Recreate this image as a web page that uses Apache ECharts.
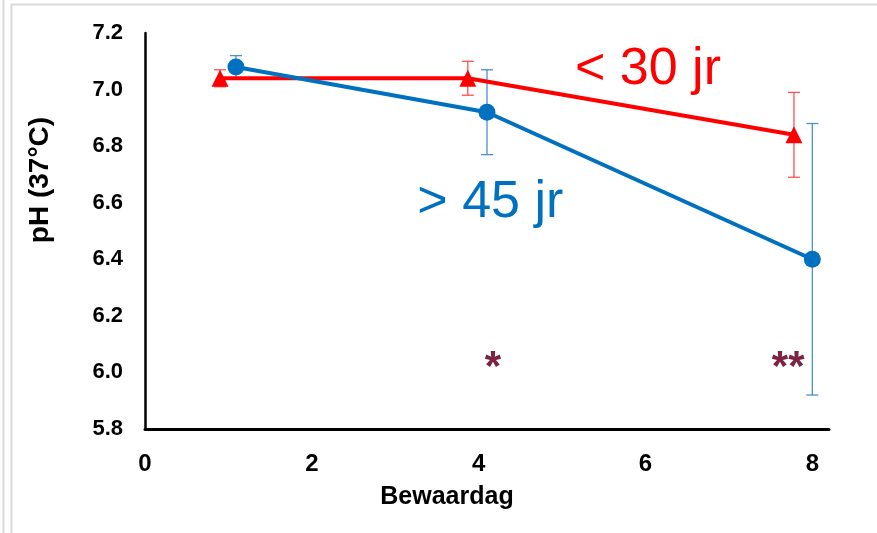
<!DOCTYPE html>
<html>
<head>
<meta charset="utf-8">
<script src="https://cdn.jsdelivr.net/npm/echarts@6/dist/echarts.min.js"></script>
<style>html,body{margin:0;padding:0;background:#fff;}#c{width:877px;height:533px;}</style>
</head>
<body>
<div id="c"></div>
<script>
// ---- data ----
const xTickLabels = [0, 2, 4, 6, 8];
const yTickLabels = [5.8, 6.0, 6.2, 6.4, 6.6, 6.8, 7.0, 7.2];
const youngName = '< 30 jr';
const youngX = [0.9, 3.87, 7.78];
const youngY = [7.04, 7.04, 6.84];
const youngErr = [0.03, 0.06, 0.15];
const oldName = '> 45 jr';
const oldX = [1.09, 4.1, 8.0];
const oldY = [7.08, 6.92, 6.40];
const oldErr = [0.04, 0.15, 0.48];
const starText = ['*', '**'];
const starX = [4.17, 7.71];
const starY = [6.05, 6.05];
const labelX = [6.03, 4.14];
const labelY = [7.07, 6.60];

const FONT = 'Liberation Sans, Arial, sans-serif';
const RED = '#ff0000', BLUE = '#0070c0';

function pts(xs, ys) { return xs.map((x, i) => [x, ys[i]]); }
function errData(xs, ys, es) { return xs.map((x, i) => [x, ys[i] - es[i], ys[i] + es[i]]); }

function errRender(color) {
  return function (params, api) {
    const x = api.value(0);
    const lo = api.coord([x, api.value(1)]);
    const hi = api.coord([x, api.value(2)]);
    const w = 6;
    const st = { stroke: color, lineWidth: 1.3 };
    return {
      type: 'group',
      children: [
        { type: 'line', shape: { x1: lo[0], y1: lo[1], x2: hi[0], y2: hi[1] }, style: st },
        { type: 'line', shape: { x1: lo[0] - w, y1: lo[1], x2: lo[0] + w, y2: lo[1] }, style: st },
        { type: 'line', shape: { x1: hi[0] - w, y1: hi[1], x2: hi[0] + w, y2: hi[1] }, style: st }
      ]
    };
  };
}

function textRender(texts, colors, sizes, weights) {
  return function (params, api) {
    const p = api.coord([api.value(0), api.value(1)]);
    const i = params.dataIndex;
    return {
      type: 'text',
      x: p[0], y: p[1],
      style: {
        text: texts[i], fill: colors[i], font: weights[i] + ' ' + sizes[i] + 'px ' + FONT,
        textAlign: 'center', textVerticalAlign: 'middle'
      }
    };
  };
}

const chart = echarts.init(document.getElementById('c'), null, { renderer: 'canvas' });
const option = {
  animation: false,
  backgroundColor: '#fff',
  grid: { left: 145, top: 33, right: 48, bottom: 104, containLabel: false },
  xAxis: {
    type: 'value', min: 0, max: 8.2, interval: 2,
    axisLine: { show: true, lineStyle: { color: '#000', width: 3 } },
    axisTick: { show: false },
    splitLine: { show: false },
    axisLabel: {
      margin: 23, color: '#000', fontSize: 24, fontWeight: 'bold', fontFamily: FONT,
      formatter: v => xTickLabels.indexOf(Math.round(v * 10) / 10) >= 0 ? String(Math.round(v)) : ''
    }
  },
  yAxis: {
    type: 'value', min: 5.8, max: 7.2, interval: 0.2,
    axisLine: { show: true, lineStyle: { color: '#000', width: 2.5 } },
    axisTick: { show: false },
    splitLine: { show: false },
    axisLabel: {
      margin: 22, color: '#000', fontSize: 22, fontWeight: 'bold', fontFamily: FONT,
      formatter: v => {
        const r = Math.round(v * 10) / 10;
        return yTickLabels.indexOf(r) >= 0 ? r.toFixed(1) : '';
      }
    }
  },
  graphic: [
    { type: 'rect', shape: { x: 11.5, y: 4.5, width: 900, height: 600 }, style: { fill: 'none', stroke: '#d9d9d9', lineWidth: 2 }, silent: true, z: -1 },
    { type: 'line', shape: { x1: 3.5, y1: 0, x2: 3.5, y2: 533 }, style: { stroke: '#d9d9d9', lineWidth: 2 }, silent: true, z: -1 },
    { type: 'text', x: 40, y: 180, rotation: Math.PI / 2, style: { text: 'pH (37°C)', font: 'bold 28px ' + FONT, fill: '#000', textAlign: 'center', textVerticalAlign: 'middle' } },
    { type: 'text', x: 447, y: 497, style: { text: 'Bewaardag', font: 'bold 25px ' + FONT, fill: '#000', textAlign: 'center', textVerticalAlign: 'middle' } }
  ],
  series: [
    {
      type: 'custom', name: 'err-old', renderItem: errRender('#4a90d0'),
      data: errData(oldX, oldY, oldErr), encode: { x: 0, y: [1, 2] }, z: 1, silent: true
    },
    {
      type: 'custom', name: 'err-young', renderItem: errRender('#ff5050'),
      data: errData(youngX, youngY, youngErr), encode: { x: 0, y: [1, 2] }, z: 1, silent: true
    },
    {
      type: 'line', name: youngName, data: pts(youngX, youngY),
      symbol: 'triangle', symbolSize: 17, showAllSymbol: true,
      lineStyle: { color: RED, width: 4 }, itemStyle: { color: RED }, z: 3
    },
    {
      type: 'line', name: oldName, data: pts(oldX, oldY),
      symbol: 'circle', symbolSize: 17, showAllSymbol: true,
      lineStyle: { color: BLUE, width: 4 }, itemStyle: { color: BLUE }, z: 4
    },
    {
      type: 'custom', name: 'labels',
      renderItem: textRender([youngName, oldName], [RED, BLUE], [52, 52], ['normal', 'normal']),
      data: pts(labelX, labelY), encode: { x: 0, y: 1 }, z: 5, silent: true
    },
    {
      type: 'custom', name: 'stars',
      renderItem: textRender(starText, ['#7a2442', '#7a2442'], [42, 42], ['bold', 'bold']),
      data: pts(starX, starY.map(v => v - 0.035)), encode: { x: 0, y: 1 }, z: 5, silent: true
    }
  ]
};
chart.setOption(option);
</script>
</body>
</html>
